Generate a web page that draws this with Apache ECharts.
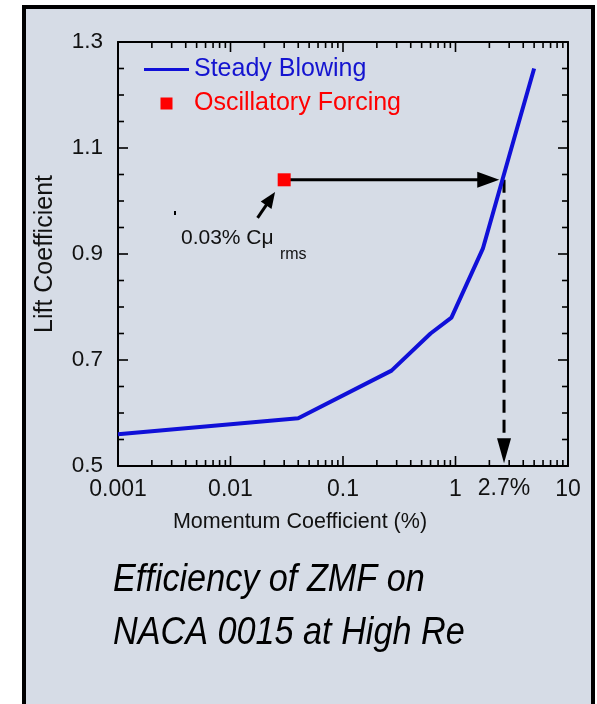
<!DOCTYPE html>
<html>
<head>
<meta charset="utf-8">
<script src="https://cdn.jsdelivr.net/npm/echarts@6/dist/echarts.min.js"></script>
<style>html,body{margin:0;padding:0;background:#fff;}#c{width:597px;height:704px;}</style>
</head>
<body>
<div id="c"></div>
<script>
// ---- data ----
const steadyX = [0.001, 0.04, 0.27, 0.6, 0.92, 1.75, 3.5, 5.0];
const steadyY = [0.56, 0.59, 0.68, 0.75, 0.78, 0.91, 1.135, 1.25];
const forcingX = [0.03];
const forcingY = [1.04];
const xTickValues = [0.001, 0.01, 0.1, 1, 10];
const xTickLabels = ['0.001', '0.01', '0.1', '1', '10'];
const xMinorMantissas = [2, 3, 4, 5, 6, 7, 8, 9];
const yTickValues = [0.5, 0.7, 0.9, 1.1, 1.3];
const yMinorValues = [0.55, 0.6, 0.65, 0.75, 0.8, 0.85, 0.95, 1.0, 1.05, 1.15, 1.2, 1.25];
// annotations (data coordinates)
const arrowFrom = [[0.03, 1.04], [2.7, 1.04], [0.0174, 0.968]];
const arrowTo   = [[2.45, 1.04], [2.7, 0.505], [0.0249, 1.017]];
const noteTexts = ['2.7%', '0.03% C\u03bc', 'rms'];
const noteAt    = [[2.7, 0.5], [0.00363, 0.93], [0.0275, 0.898]];

const X_MIN = 0.001, X_MAX = 10, Y_MIN = 0.5, Y_MAX = 1.3;
const FONT = "'Liberation Sans', Arial, Helvetica, sans-serif";

// tick specifications
const ticks = [];
xTickValues.forEach(v => ticks.push({axis: 'x', v: v, len: 10}));
[0.001, 0.01, 0.1, 1].forEach(d => xMinorMantissas.forEach(m => ticks.push({axis: 'x', v: +(d * m).toPrecision(3), len: 6})));
yTickValues.forEach(v => ticks.push({axis: 'y', v: v, len: 10}));
yMinorValues.forEach(v => ticks.push({axis: 'y', v: v, len: 6}));

// arrow styles
const arrowStyle = [
  {w: 3, dash: null, headLen: 22, headW: 16},
  {w: 3, dash: [13, 7], headLen: 25, headW: 14},
  {w: 3, dash: null, headLen: 16, headW: 13}
];
const noteStyle = [
  {size: 23, dx: 0, dy: 23, align: 'center'},
  {size: 21, dx: 0, dy: 0, align: 'left'},
  {size: 16, dx: 0, dy: 0, align: 'left'}
];

const chart = echarts.init(document.getElementById('c'), null, {renderer: 'canvas'});

function renderTick(params, api) {
  const t = ticks[params.dataIndex];
  const st = {stroke: '#000', lineWidth: 1.6};
  const ch = [];
  if (t.axis === 'x') {
    const b = api.coord([t.v, Y_MIN]), p = api.coord([t.v, Y_MAX]);
    ch.push({type: 'line', shape: {x1: b[0], y1: b[1], x2: b[0], y2: b[1] - t.len}, style: st});
    ch.push({type: 'line', shape: {x1: p[0], y1: p[1], x2: p[0], y2: p[1] + t.len}, style: st});
  } else {
    const l = api.coord([X_MIN, t.v]), r = api.coord([X_MAX, t.v]);
    ch.push({type: 'line', shape: {x1: l[0], y1: l[1], x2: l[0] + t.len, y2: l[1]}, style: st});
    ch.push({type: 'line', shape: {x1: r[0], y1: r[1], x2: r[0] - t.len, y2: r[1]}, style: st});
  }
  return {type: 'group', children: ch};
}

function renderArrow(params, api) {
  const i = params.dataIndex;
  const s = arrowStyle[i];
  const p0 = api.coord(arrowFrom[i]), p1 = api.coord(arrowTo[i]);
  const dx = p1[0] - p0[0], dy = p1[1] - p0[1];
  const L = Math.sqrt(dx * dx + dy * dy);
  const ux = dx / L, uy = dy / L, nx = -uy, ny = ux;
  const bx = p1[0] - ux * s.headLen, by = p1[1] - uy * s.headLen;
  return {type: 'group', children: [
    {type: 'line', shape: {x1: p0[0], y1: p0[1], x2: bx + ux * 2, y2: by + uy * 2},
     style: {stroke: '#000', lineWidth: s.w, lineDash: s.dash}},
    {type: 'polygon', shape: {points: [[p1[0], p1[1]], [bx + nx * s.headW / 2, by + ny * s.headW / 2], [bx - nx * s.headW / 2, by - ny * s.headW / 2]]},
     style: {fill: '#000'}}
  ]};
}

function renderNote(params, api) {
  const i = params.dataIndex;
  const s = noteStyle[i];
  const p = api.coord(noteAt[i]);
  return {type: 'text', x: p[0] + s.dx, y: p[1] + s.dy,
    style: {text: noteTexts[i], fontSize: s.size, fontFamily: FONT, fill: '#111', align: s.align, verticalAlign: 'middle'}};
}

const axisLineStyle = {show: true, lineStyle: {color: '#000', width: 2}};

const option = {
  backgroundColor: '#fff',
  animation: false,
  graphic: [
    {type: 'rect', z: -10, shape: {x: 24, y: 7, width: 569, height: 720},
     style: {fill: '#d6dce6', stroke: '#000', lineWidth: 4}},
    {type: 'rect', z: 10, shape: {x: 174, y: 211, width: 2, height: 4}, style: {fill: '#000'}},
    {type: 'text', z: 10, x: 113, y: 580, scaleX: 0.9,
     style: {text: 'Efficiency of ZMF on', fontSize: 38, fontStyle: 'italic', fontFamily: FONT, fill: '#000', verticalAlign: 'middle'}},
    {type: 'text', z: 10, x: 113, y: 633, scaleX: 0.9,
     style: {text: 'NACA 0015 at High Re', fontSize: 38, fontStyle: 'italic', fontFamily: FONT, fill: '#000', verticalAlign: 'middle'}}
  ],
  grid: {left: 118, right: 29, top: 42, bottom: 238, containLabel: false},
  legend: {
    orient: 'vertical', left: 139, top: 52, padding: 5, itemWidth: 45, itemHeight: 12, itemGap: 9,
    selectedMode: false, symbolKeepAspect: true,
    textStyle: {fontSize: 25, fontFamily: FONT},
    data: [
      {name: 'Steady Blowing', icon: 'path://M0,0 L45,0 L45,3 L0,3 Z', itemStyle: {color: '#1010d8', opacity: 1}, textStyle: {color: '#1414d0'}},
      {name: 'Oscillatory Forcing', icon: 'path://M0,0 L12,0 L12,12 L0,12 Z', itemStyle: {color: '#ff0000', opacity: 1}, textStyle: {color: '#ff0000'}}
    ]
  },
  xAxis: [
    {type: 'log', logBase: 10, min: X_MIN, max: X_MAX, position: 'bottom',
     axisLine: axisLineStyle, axisTick: {show: false}, splitLine: {show: false},
     axisLabel: {fontSize: 23, fontFamily: FONT, color: '#111', margin: 12,
       formatter: v => xTickLabels[Math.round(Math.log10(v)) + 3]},
     name: 'Momentum Coefficient (%)', nameLocation: 'middle', nameGap: 45,
     nameTextStyle: {fontSize: 21.5, fontFamily: FONT, color: '#111', padding: [0, 86, 0, 0]}},
    {type: 'log', logBase: 10, min: X_MIN, max: X_MAX, position: 'top',
     axisLine: axisLineStyle, axisTick: {show: false}, splitLine: {show: false}, axisLabel: {show: false}}
  ],
  yAxis: [
    {type: 'value', min: Y_MIN, max: Y_MAX, interval: 0.1, position: 'left',
     axisLine: axisLineStyle, axisTick: {show: false}, splitLine: {show: false},
     axisLabel: {fontSize: 22.5, fontFamily: FONT, color: '#111', margin: 15,
       formatter: v => (Math.round(v * 10) % 2 === 1 ? v.toFixed(1) : '')},
     name: 'Lift Coefficient', nameLocation: 'middle', nameGap: 60, nameRotate: 90,
     nameTextStyle: {fontSize: 25, fontFamily: FONT, color: '#111'}},
    {type: 'value', min: Y_MIN, max: Y_MAX, interval: 0.1, position: 'right',
     axisLine: axisLineStyle, axisTick: {show: false}, splitLine: {show: false}, axisLabel: {show: false}}
  ],
  series: [
    {type: 'custom', name: 'ticks', z: 1, silent: true,
     data: ticks.map(t => t.axis === 'x' ? [t.v, Y_MIN] : [X_MIN, t.v]),
     renderItem: renderTick},
    {type: 'custom', name: 'arrows', z: 3, silent: true,
     data: arrowTo.map(p => p.slice()), renderItem: renderArrow},
    {type: 'custom', name: 'notes', z: 6, silent: true,
     data: noteAt.map(p => p.slice()), renderItem: renderNote},
    {type: 'line', name: 'Steady Blowing', z: 4,
     data: steadyX.map((x, i) => [x, steadyY[i]]),
     showSymbol: false, symbol: 'none',
     lineStyle: {color: '#1010d8', width: 4}, itemStyle: {color: '#1010d8'}},
    {type: 'scatter', name: 'Oscillatory Forcing', z: 5,
     data: forcingX.map((x, i) => [x, forcingY[i]]),
     symbol: 'rect', symbolSize: 13, itemStyle: {color: '#ff0000', opacity: 1}}
  ]
};
chart.setOption(option);
</script>
</body>
</html>
